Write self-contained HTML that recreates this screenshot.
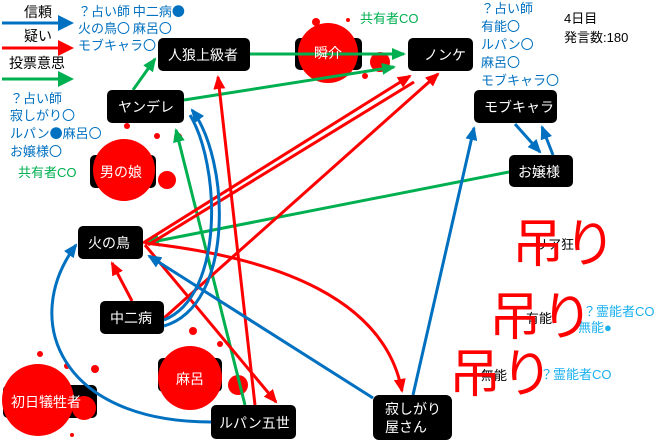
<!DOCTYPE html>
<html><head><meta charset="utf-8"><style>
html,body{margin:0;padding:0;background:#fff;}
svg{display:block;font-family:"Liberation Sans","Noto Sans CJK JP",sans-serif;}
.cj{font-family:"Noto Sans CJK JP",sans-serif;}
</style></head><body>
<svg width="660" height="443" viewBox="0 0 660 443" xmlns="http://www.w3.org/2000/svg">
<defs>
<marker id="mb" markerWidth="14" markerHeight="12" refX="12" refY="6" orient="auto" markerUnits="userSpaceOnUse"><path d="M0,0 L14,6 L0,12 z" fill="#0070c0"/></marker>
<marker id="mr" markerWidth="14" markerHeight="12" refX="12" refY="6" orient="auto" markerUnits="userSpaceOnUse"><path d="M0,0 L14,6 L0,12 z" fill="#ff0000"/></marker>
<marker id="mg" markerWidth="14" markerHeight="12" refX="12" refY="6" orient="auto" markerUnits="userSpaceOnUse"><path d="M0,0 L14,6 L0,12 z" fill="#00b050"/></marker>
</defs>

<!-- legend -->
<text x="24" y="17" font-size="14" fill="#000">信頼</text>
<line x1="2" y1="23" x2="60" y2="23" stroke="#0070c0" stroke-width="3"/>
<path d="M58,15 L74,23 L58,31 z" fill="#0070c0"/>
<text x="24" y="41" font-size="14" fill="#000">疑い</text>
<line x1="2" y1="48" x2="60" y2="48" stroke="#ff0000" stroke-width="3"/>
<path d="M58,40 L74,48 L58,56 z" fill="#ff0000"/>
<text x="9" y="68" font-size="14" fill="#000">投票意思</text>
<line x1="2" y1="79" x2="60" y2="79" stroke="#00b050" stroke-width="3"/>
<path d="M58,71 L74,79 L58,87 z" fill="#00b050"/>

<g font-size="13" fill="#0070c0" class="cj">
<text x="78" y="16">？占い師 中二病●</text>
<text x="78" y="33">火の鳥〇 麻呂〇</text>
<text x="78" y="50">モブキャラ〇</text>
<text x="10" y="103">？占い師</text>
<text x="10" y="120">寂しがり〇</text>
<text x="10" y="138">ルパン●麻呂〇</text>
<text x="10" y="156">お嬢様〇</text>
<text x="481" y="13">？占い師</text>
<text x="481" y="31">有能〇</text>
<text x="481" y="49">ルパン〇</text>
<text x="481" y="67">麻呂〇</text>
<text x="481" y="85">モブキャラ〇</text>
</g>
<text x="18" y="177" font-size="13" fill="#00b050">共有者CO</text>
<text x="360" y="23" font-size="13" fill="#00b050">共有者CO</text>
<text x="564" y="23" font-size="13" fill="#000">4日目</text>
<text x="564" y="42" font-size="13" fill="#000">発言数:180</text>

<!-- dead nodes behind blobs -->
<g fill="#000">
<rect x="295" y="38" width="67" height="32" rx="5"/>
<rect x="90" y="155" width="66" height="33" rx="5"/>
<rect x="158" y="358" width="64" height="34" rx="5"/>
<rect x="3" y="385" width="94" height="33" rx="5"/>
</g>
<!-- blood blobs -->
<g fill="#ff0000">
<circle cx="328" cy="53" r="30"/><circle cx="380" cy="62" r="10"/><circle cx="316" cy="22" r="4"/><circle cx="365" cy="76" r="3"/><circle cx="348" cy="20" r="2"/>
<circle cx="124" cy="170" r="31"/><circle cx="167" cy="180" r="9"/><circle cx="178" cy="137" r="4"/><circle cx="127" cy="126" r="3"/><circle cx="157" cy="136" r="3"/>
<circle cx="190" cy="378" r="32"/><circle cx="238" cy="385" r="10"/><circle cx="193" cy="331" r="4"/><circle cx="220" cy="344" r="3"/>
<circle cx="38" cy="400" r="36"/><circle cx="84" cy="408" r="12"/><circle cx="95" cy="369" r="4"/><circle cx="40" cy="354" r="3"/><circle cx="67" cy="366" r="3"/><circle cx="72" cy="435" r="2"/>
</g>

<!-- edges -->
<g fill="none" stroke-width="3">
<line x1="133" y1="90" x2="155" y2="59" stroke="#00b050" marker-end="url(#mg)"/>
<line x1="250" y1="54" x2="404" y2="54" stroke="#00b050" marker-end="url(#mg)"/>
<line x1="184" y1="100" x2="394" y2="67" stroke="#00b050" marker-end="url(#mg)"/>
<line x1="509" y1="172" x2="147" y2="243" stroke="#00b050" marker-end="url(#mg)"/>
<line x1="245" y1="405" x2="176" y2="130" stroke="#00b050" marker-end="url(#mg)"/>

<line x1="255" y1="405" x2="218" y2="77" stroke="#ff0000" marker-end="url(#mr)"/>
<line x1="143" y1="243" x2="410" y2="76" stroke="#ff0000" marker-end="url(#mr)"/>
<line x1="148" y1="245" x2="414" y2="82" stroke="#ff0000"/>
<line x1="164" y1="318" x2="438" y2="74" stroke="#ff0000" marker-end="url(#mr)"/>
<line x1="145" y1="245" x2="276" y2="402" stroke="#ff0000" marker-end="url(#mr)"/>
<line x1="132" y1="301" x2="112" y2="263" stroke="#ff0000" marker-end="url(#mr)"/>
<path d="M145,243 C280,258 385,300 402,391" stroke="#ff0000" marker-end="url(#mr)"/>

<path d="M164,326 C235,305 230,160 192,110" stroke="#0070c0" marker-end="url(#mb)"/>
<path d="M164,320 C225,295 220,165 190,115" stroke="#0070c0"/>
<line x1="373" y1="398" x2="149" y2="256" stroke="#0070c0" marker-end="url(#mb)"/>
<line x1="413" y1="395" x2="474" y2="128" stroke="#0070c0" marker-end="url(#mb)"/>
<path d="M211,422 C60,422 20,320 76,245" stroke="#0070c0" marker-end="url(#mb)"/>
<line x1="515" y1="124" x2="540" y2="152" stroke="#0070c0" marker-end="url(#mb)"/>
<line x1="553" y1="155" x2="542" y2="127" stroke="#0070c0" marker-end="url(#mb)"/>
</g>

<!-- nodes -->
<g fill="#000">
<rect x="158" y="38" width="92" height="33" rx="5"/>
<rect x="107" y="90" width="77" height="33" rx="5"/>
<rect x="408" y="38" width="65" height="33" rx="5"/>
<rect x="474" y="90" width="83" height="33" rx="5"/>
<rect x="509" y="155" width="64" height="32" rx="5"/>
<rect x="78" y="226" width="65" height="33" rx="5"/>
<rect x="100" y="301" width="64" height="33" rx="5"/>
<rect x="211" y="405" width="85" height="34" rx="5"/>
<rect x="373" y="395" width="79" height="45" rx="6"/>
</g>
<g font-size="14" fill="#fff">
<text x="168" y="60">人狼上級者</text>
<text x="118" y="112">ヤンデレ</text>
<text x="424" y="60">ノンケ</text>
<text x="484" y="112">モブキャラ</text>
<text x="518" y="177">お嬢様</text>
<text x="88" y="248">火の鳥</text>
<text x="110" y="323">中二病</text>
<text x="219" y="428">ルパン五世</text>
<text x="385" y="414">寂しがり</text>
<text x="385" y="432">屋さん</text>
<text x="100" y="177">男の娘</text>
<text x="176" y="384">麻呂</text>
<text x="11" y="407">初日犠牲者</text>
<text x="314" y="58">瞬介</text>
</g>

<!-- right side -->
<g font-size="13" fill="#000">
<text x="535" y="249">リア狂</text>
<text x="526" y="323">有能</text>
<text x="481" y="380">無能</text>
</g>
<g font-size="13" fill="#1ab0ef">
<text x="583" y="316">？霊能者CO</text>
<text x="578" y="332">無能●</text>
<text x="540" y="379">？霊能者CO</text>
</g>
<g font-size="52" fill="#ff0000">
<text x="512" y="262">吊り</text>
<text x="489" y="335">吊り</text>
<text x="449" y="392">吊り</text>
</g>
</svg>
</body></html>
